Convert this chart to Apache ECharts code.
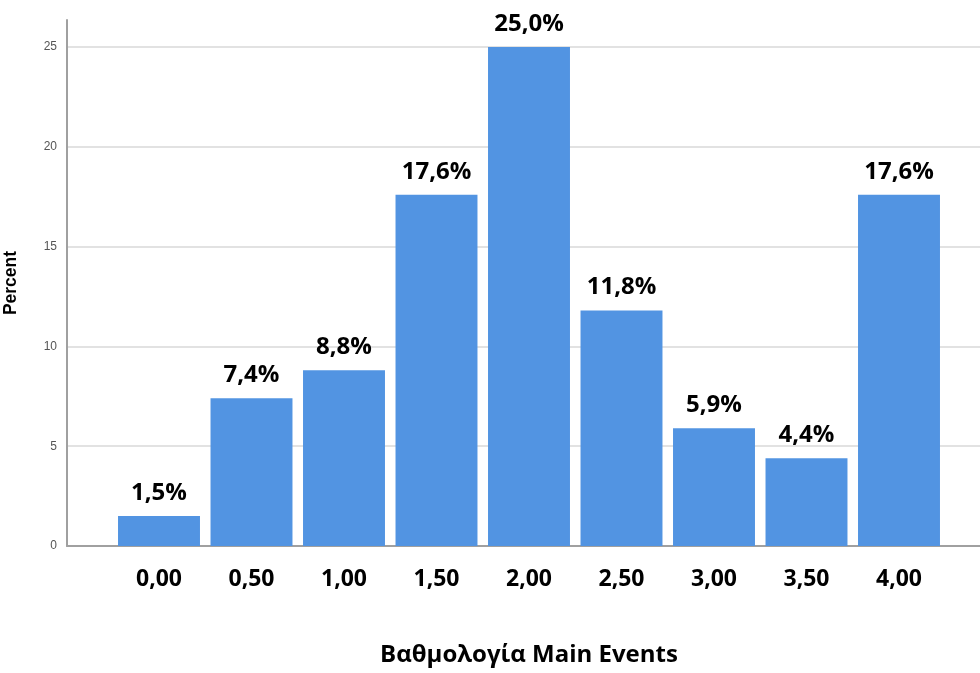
<!DOCTYPE html>
<html><head><meta charset="utf-8">
<script src="https://cdn.jsdelivr.net/npm/echarts@6/dist/echarts.min.js"></script>
<style>html,body{margin:0;padding:0;background:#fff}#c{width:980px;height:673px}</style>
</head><body><div id="c"></div>
<script>
const categories = ['0,00','0,50','1,00','1,50','2,00','2,50','3,00','3,50','4,00'];
const percents = [1.5, 7.4, 8.8, 17.6, 25.0, 11.8, 5.9, 4.4, 17.6];
const yTicks = [0, 5, 10, 15, 20, 25];
const xTitle = 'Βαθμολογία Main Events';
const yTitle = 'Percent';

const yMax = 26.35;
const chart = echarts.init(document.getElementById('c'));
chart.setOption({
  animation: false,
  grid: [
    {left: 67, right: 0, top: 20, bottom: 127, outerBoundsMode: 'none', containLabel: false},
    {left: 112.75, right: 34.75, top: 20, bottom: 127, outerBoundsMode: 'none', containLabel: false}
  ],
  xAxis: [
    {gridIndex: 0, type: 'value', min: 0, max: 1, axisLine: {show: true, lineStyle: {color: '#a0a0a0', width: 2}},
     axisTick: {show: false}, axisLabel: {show: false}, splitLine: {show: false}},
    {gridIndex: 1, type: 'category', data: categories, axisLine: {show: false}, axisTick: {show: false},
     axisLabel: {margin: 22, fontFamily: 'Open Sans', fontWeight: 'bold', fontSize: 23, color: '#000'},
     name: xTitle, nameLocation: 'middle', nameGap: 97,
     nameTextStyle: {fontFamily: 'Open Sans', fontWeight: 'bold', fontSize: 24, color: '#000'}}
  ],
  yAxis: [
    {gridIndex: 0, type: 'value', min: 0, max: yMax, interval: 5,
     axisLine: {show: true, lineStyle: {color: '#a0a0a0', width: 2}}, axisTick: {show: false},
     axisLabel: {showMaxLabel: false, margin: 10, fontFamily: 'Liberation Sans', fontSize: 12, color: '#555',
       formatter: v => yTicks.includes(v) ? String(v) : ''},
     splitLine: {show: true, showMaxLine: false, lineStyle: {color: '#d9d9d9', width: 1.5}},
     name: yTitle, nameLocation: 'middle', nameGap: 47, nameRotate: 90,
     nameTextStyle: {fontFamily: 'Liberation Sans', fontWeight: 'bold', fontSize: 17.5, color: '#000'}},
    {gridIndex: 1, type: 'value', min: 0, max: yMax, show: false}
  ],
  series: [{
    type: 'bar', xAxisIndex: 1, yAxisIndex: 1, data: percents,
    barCategoryGap: '11.4%',
    itemStyle: {color: '#5294e2'},
    label: {show: true, position: 'top', distance: 11, fontFamily: 'Open Sans', fontWeight: 'bold', fontSize: 24, color: '#000',
      formatter: p => p.value.toFixed(1).replace('.', ',') + '%'}
  }]
});
</script></body></html>
